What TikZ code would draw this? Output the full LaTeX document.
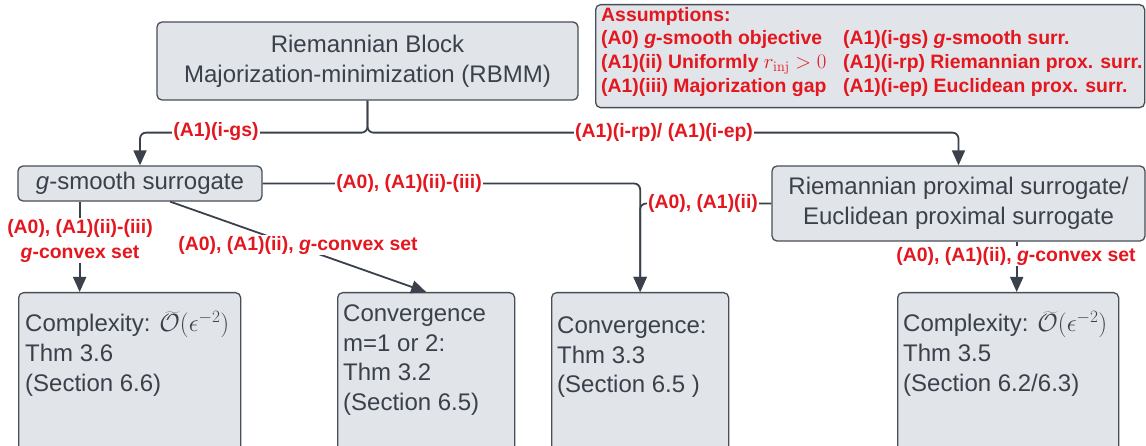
\documentclass[tikz,border=0pt]{standalone}
\usepackage[no-math]{fontspec}
\setmainfont{Liberation Sans}
\usetikzlibrary{arrows.meta,calc}
\definecolor{boxfill}{RGB}{225,228,233}
\definecolor{boxline}{RGB}{72,78,87}
\definecolor{txt}{RGB}{58,65,75}
\definecolor{lab}{RGB}{228,22,30}
\begin{document}
\begin{tikzpicture}[x=1pt,y=-1pt,
  box/.style={draw=boxline, fill=boxfill, line width=1.3pt, rounded corners=5pt},
  maintext/.style={text=txt, font=\fontsize{24}{30}\selectfont, align=center},
  bodytext/.style={text=txt, font=\fontsize{24}{29.5}\selectfont, inner sep=0pt, anchor=base west},
  lbl/.style={text=lab, font=\fontsize{19.4}{25}\selectfont\bfseries, fill=white, inner sep=1pt, align=center},
  conn/.style={draw=txt, line width=1.8pt, rounded corners=6pt},
  arr/.style={-{Triangle[length=15pt,width=13pt]}}]
\useasboundingbox (0,0) rectangle (1146,446);
\clip (0,0) rectangle (1146,446);

% main boxes
\node[box, minimum width=421pt, minimum height=78pt, maintext] (rbmm) at (367.5,61) {Riemannian Block\\Majorization-minimization (RBMM)};
\node[box, anchor=north west, minimum width=549pt, minimum height=103pt] (assm) at (595,4) {};
\node[anchor=west, text=lab, font=\fontsize{19.4}{23.6}\selectfont\bfseries, inner sep=0pt] (assmtxt) at (601,52)
 {\begin{tabular}{@{}p{242pt}@{}l@{}}
  Assumptions: & \\
  (A0) \textit{g}-smooth objective & (A1)(i-gs) \textit{g}-smooth surr.\\
  (A1)(ii) Uniformly $r_{\mathrm{inj}}>0$ & (A1)(i-rp) Riemannian prox. surr.\\
  (A1)(iii) Majorization gap & (A1)(i-ep) Euclidean prox. surr.
 \end{tabular}};

\node[box, minimum width=244pt, minimum height=35pt, maintext] (gs) at (140,183.5) {\textit{g}-smooth surrogate};
\node[box, minimum width=373pt, minimum height=75pt, maintext] (prox) at (958.5,203.5) {Riemannian proximal surrogate/\\Euclidean proximal surrogate};

% bottom boxes
\node[box, anchor=north west, minimum width=222pt, minimum height=180pt] (c1) at (18,292) {};
\node[box, anchor=north west, minimum width=177pt, minimum height=180pt] (c2) at (337,292) {};
\node[box, anchor=north west, minimum width=177pt, minimum height=180pt] (c3) at (551,292) {};
\node[box, anchor=north west, minimum width=221pt, minimum height=180pt] (c4) at (897,292) {};

\node[bodytext] (c1txt) at (25,332) {\begin{tabular}[t]{@{}l@{}}Complexity: $\widetilde{\mathcal{O}}(\epsilon^{-2})$\\Thm 3.6\\(Section 6.6)\end{tabular}};
\node[bodytext] (c2txt) at (343,322) {\begin{tabular}[t]{@{}l@{}}Convergence\\m=1 or 2:\\Thm 3.2\\(Section 6.5)\end{tabular}};
\node[bodytext] (c3txt) at (557,334) {\begin{tabular}[t]{@{}l@{}}Convergence:\\Thm 3.3\\(Section 6.5 )\end{tabular}};
\node[bodytext] (c4txt) at (903,332) {\begin{tabular}[t]{@{}l@{}}Complexity: $\widetilde{\mathcal{O}}(\epsilon^{-2})$\\Thm 3.5\\(Section 6.2/6.3)\end{tabular}};

% connectors
\draw[conn,arr] (rbmm.south) -- ++(0,32) -| (gs.north);
\draw[conn,arr] (rbmm.south) -- ++(0,32) -| (prox.north);
\draw[conn,arr] (gs.east) -| (c3.north);
\draw[conn,arr] (prox.west) -| (c3.north);
\draw[conn,arr] ($(gs.south west)!0.254!(gs.south east)$) coordinate (p1) -- (p1 |- c1.north);
\draw[conn,arr] ($(gs.south west)!0.623!(gs.south east)$) -- (c2.north);
\draw[conn,arr] ($(prox.south west)!0.6555!(prox.south east)$) coordinate (p2) -- (p2 |- c4.north);

% labels
\node[lbl] (l1) at (216,132) {(A1)(i-gs)};
\node[lbl] (l2) at (664,132) {(A1)(i-rp)/ (A1)(i-ep)};
\node[lbl] (l3) at (409,183) {(A0), (A1)(ii)-(iii)};
\node[lbl] (l4) at (703,203) {(A0), (A1)(ii)};
\node[lbl] (l5) at (80,240.5) {(A0), (A1)(ii)-(iii)\\\textit{g}-convex set};
\node[lbl] (l6) at (298,245) {(A0), (A1)(ii), \textit{g}-convex set};
\node[lbl] (l7) at (1016,256) {(A0), (A1)(ii), \textit{g}-convex set};
\end{tikzpicture}
\end{document}
